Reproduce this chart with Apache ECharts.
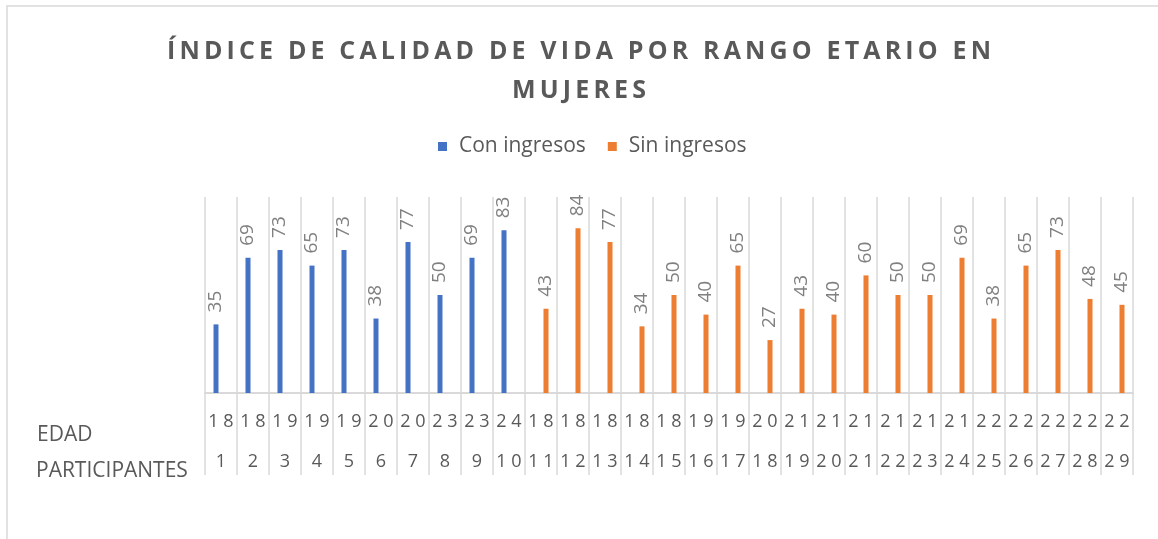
<!DOCTYPE html>
<html>
<head>
<meta charset="utf-8">
<script src="https://cdn.jsdelivr.net/npm/echarts@6/dist/echarts.min.js"></script>
<style>
  html, body { margin: 0; padding: 0; background: #fff; }
  #chart { width: 1158px; height: 539px; }
</style>
</head>
<body>
<div id="chart"></div>
<script>
// edad de cada participante (1..29)
var edades = [18, 18, 19, 19, 19, 20, 20, 23, 23, 24,
              18, 18, 18, 18, 18, 19, 19, 20, 21, 21,
              21, 21, 21, 21, 22, 22, 22, 22, 22];
var participantes = [1, 2, 3, 4, 5, 6, 7, 8, 9, 10, 11, 12, 13, 14, 15,
                     16, 17, 18, 19, 20, 21, 22, 23, 24, 25, 26, 27, 28, 29];
// participantes 1-10
var conIngresos = [35, 69, 73, 65, 73, 38, 77, 50, 69, 83];
// participantes 11-29
var sinIngresos = [43, 84, 77, 34, 50, 40, 65, 27, 43, 40, 60, 50, 50, 69, 38, 65, 73, 48, 45];

function espaciar(s, sep) {
    return String(s).split('').join(sep);
}

var categorias = participantes.map(function (p, i) { return i; });
var serieCon = [], serieSin = [];
for (var i = 0; i < participantes.length; i++) {
    serieCon.push(i < conIngresos.length ? conIngresos[i] : null);
    serieSin.push(i >= conIngresos.length ? sinIngresos[i - conIngresos.length] : null);
}

var titulo = espaciar('ÍNDICE DE CALIDAD DE VIDA POR RANGO ETARIO EN', '\u2009') + '\n' +
             espaciar('MUJERES', '\u2009');

var gris = '#595959';
var linea = '#d9d9d9';
var fuente = 'Open Sans';

var etiqueta = {
    show: true, position: 'top', rotate: 90, distance: 12,
    align: 'left', verticalAlign: 'middle',
    fontSize: 19, color: '#808080', fontFamily: fuente
};

var myChart = echarts.init(document.getElementById('chart'));
var option = {
    animation: false,
    textStyle: { fontFamily: fuente },
    title: {
        text: titulo,
        left: 'center',
        top: 27,
        textStyle: {
            fontFamily: fuente,
            fontSize: 25,
            fontWeight: 'bold',
            color: gris,
            lineHeight: 39
        }
    },
    legend: {
        top: 131,
        left: 433,
        icon: 'rect',
        itemWidth: 9,
        itemHeight: 9,
        itemGap: 22,
        textStyle: { fontSize: 21, color: gris, fontFamily: fuente, padding: [0, 0, 0, 7] },
        data: ['Con ingresos', 'Sin ingresos']
    },
    grid: { left: 205, right: 25, top: 197, bottom: 146 },
    xAxis: {
        type: 'category',
        data: categorias,
        axisLine: { lineStyle: { color: linea, width: 2 } },
        axisTick: { show: true, interval: 0, length: 82, lineStyle: { color: linea, width: 1.5 } },
        splitLine: { show: true, interval: 0, lineStyle: { color: linea, width: 1.5 } },
        axisLabel: {
            interval: 0,
            margin: 9,
            formatter: function (v) {
                var i = Number(v);
                return '{a|' + espaciar(edades[i], ' ') + '}\n{b|' + espaciar(participantes[i], ' ') + '}';
            },
            rich: {
                a: { fontSize: 18, color: gris, lineHeight: 40, fontFamily: fuente },
                b: { fontSize: 18, color: gris, lineHeight: 40, fontFamily: fuente }
            }
        }
    },
    yAxis: {
        type: 'value',
        min: 0,
        max: 100,
        show: false,
        splitLine: { show: false }
    },
    graphic: [
        {
            type: 'rect',
            shape: { x: 7, y: 6, width: 1300, height: 700 },
            style: { fill: 'none', stroke: linea, lineWidth: 1.5 },
            silent: true
        },
        {
            type: 'text', x: 37, y: 435,
            style: { text: 'EDAD', fontSize: 21, fill: gris, fontFamily: fuente, verticalAlign: 'middle' }
        },
        {
            type: 'text', x: 36, y: 471,
            style: { text: 'PARTICIPANTES', fontSize: 21, fill: gris, fontFamily: fuente, verticalAlign: 'middle' }
        }
    ],
    series: [
        {
            name: 'Con ingresos',
            type: 'bar',
            data: serieCon,
            barWidth: 5,
            barGap: '100%',
            itemStyle: { color: '#4472C4' },
            label: etiqueta
        },
        {
            name: 'Sin ingresos',
            type: 'bar',
            data: serieSin,
            barWidth: 5,
            barGap: '100%',
            itemStyle: { color: '#ED7D31' },
            label: etiqueta
        }
    ]
};
myChart.setOption(option);
</script>
</body>
</html>
